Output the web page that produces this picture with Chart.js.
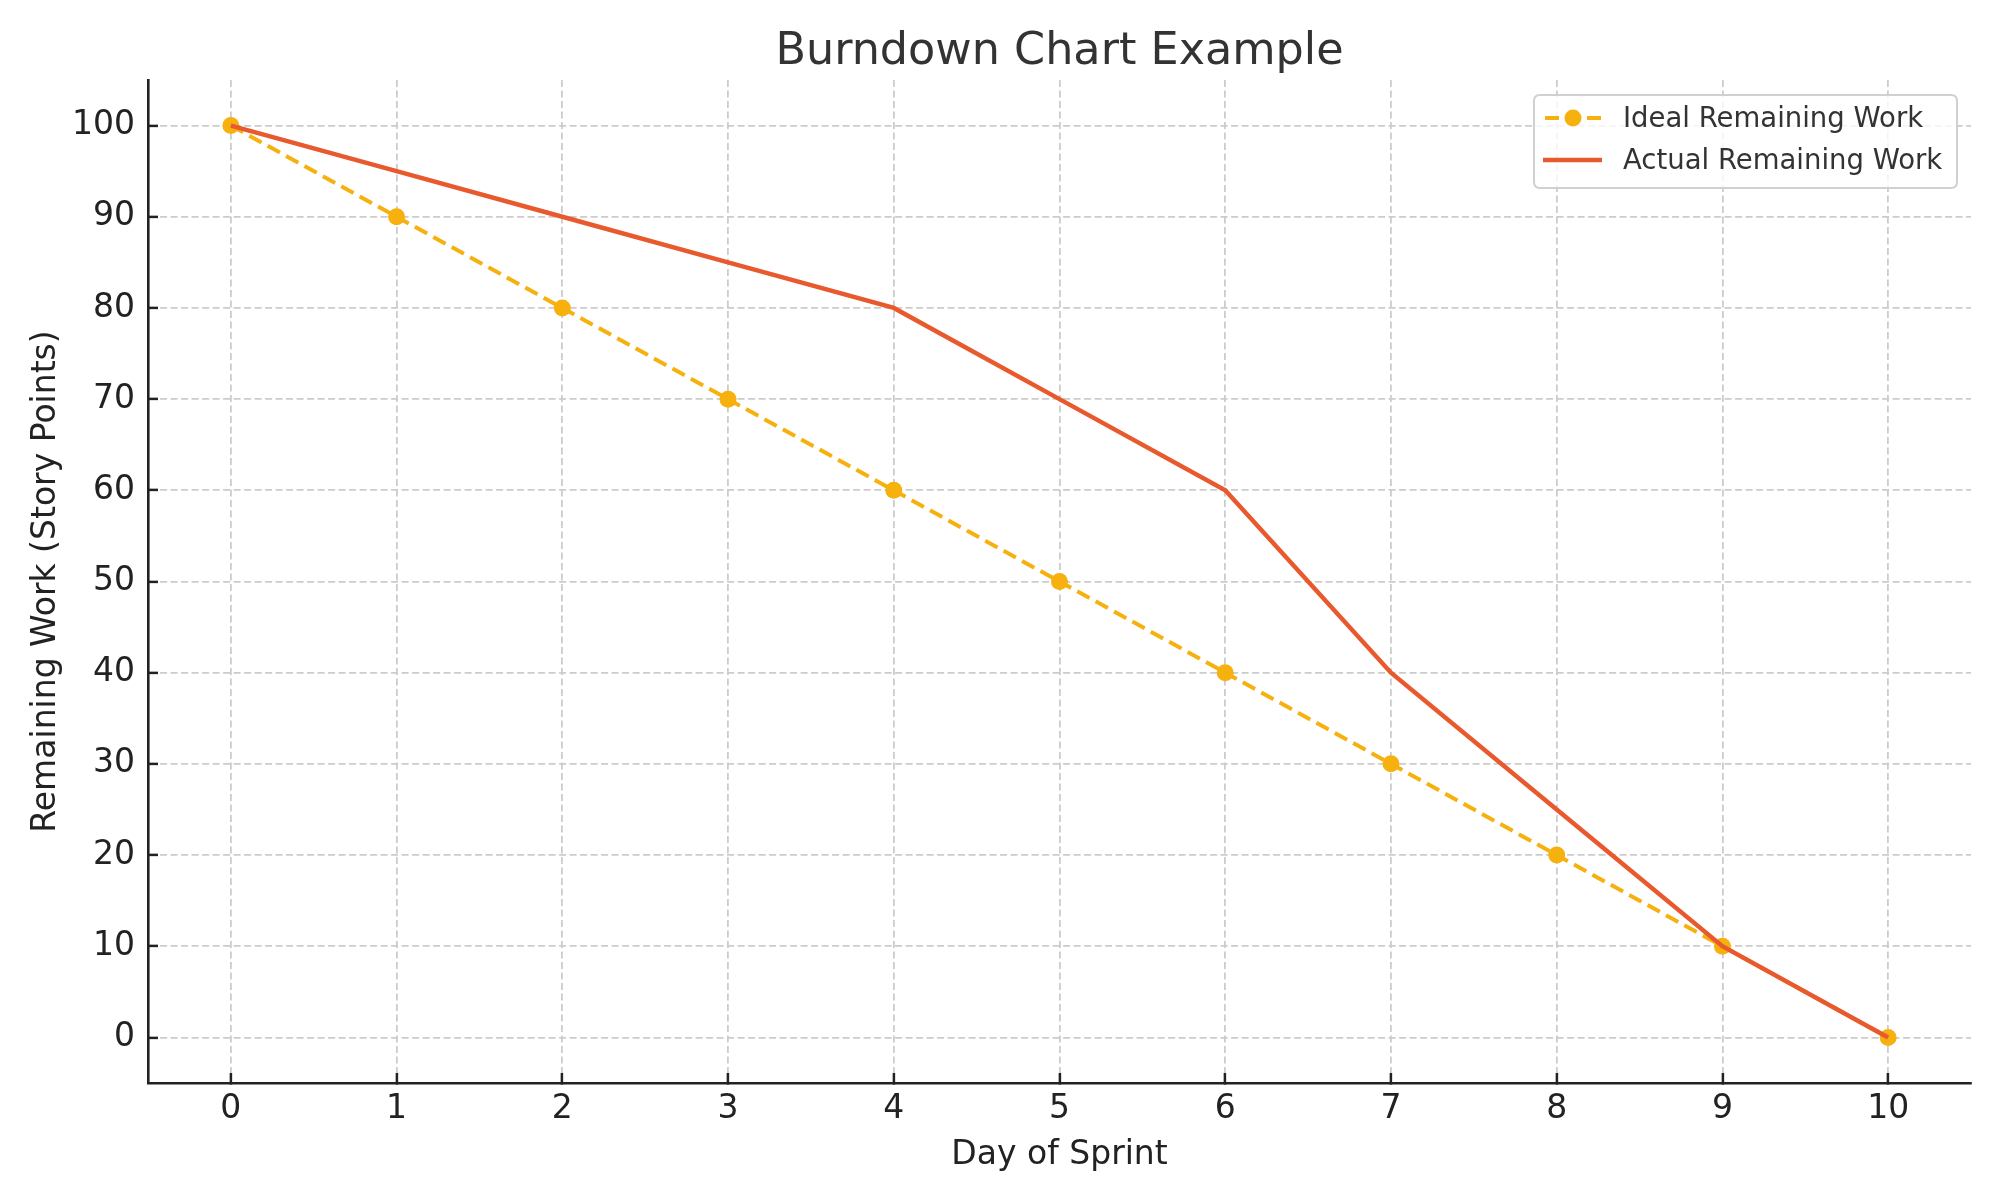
<!DOCTYPE html>
<html>
<head>
<meta charset="utf-8">
<script src="https://cdn.jsdelivr.net/npm/chart.js@4"></script>
<style>
  html, body { margin: 0; padding: 0; background: #ffffff; }
  #wrap { width: 2000px; height: 1200px; }
</style>
</head>
<body>
<div id="wrap"><canvas id="c" width="2000" height="1200"></canvas></div>
<script>
const days = [0, 1, 2, 3, 4, 5, 6, 7, 8, 9, 10];
const idealRemaining = [100, 90, 80, 70, 60, 50, 40, 30, 20, 10, 0];
const actualRemaining = [100, 95, 90, 85, 80, 70, 60, 40, 25, 10, 0];
const xTickValues = [0, 1, 2, 3, 4, 5, 6, 7, 8, 9, 10];
const yTickValues = [0, 10, 20, 30, 40, 50, 60, 70, 80, 90, 100];
const seriesNames = ['Ideal Remaining Work', 'Actual Remaining Work'];
const chartTitle = 'Burndown Chart Example';
const xTitle = 'Day of Sprint';
const yTitle = 'Remaining Work (Story Points)';

const IDEAL_COLOR = '#F6B10F';
const ACTUAL_COLOR = '#E85A2E';
const FONT = "'DejaVu Sans', sans-serif";

Chart.defaults.font.family = FONT;

const overlay = {
  id: 'overlay',
  afterDraw(chart) {
    const ctx = chart.ctx;
    const ca = chart.chartArea;
    ctx.save();
    // title
    ctx.fillStyle = '#333333';
    ctx.font = "44.5px " + FONT;
    ctx.textAlign = 'center';
    ctx.textBaseline = 'alphabetic';
    ctx.fillText(chartTitle, (ca.left + ca.right) / 2, 64);

    // legend
    const bx = 1534, by = 95, bw = 423, bh = 93, r = 6;
    ctx.beginPath();
    ctx.moveTo(bx + r, by);
    ctx.lineTo(bx + bw - r, by);
    ctx.quadraticCurveTo(bx + bw, by, bx + bw, by + r);
    ctx.lineTo(bx + bw, by + bh - r);
    ctx.quadraticCurveTo(bx + bw, by + bh, bx + bw - r, by + bh);
    ctx.lineTo(bx + r, by + bh);
    ctx.quadraticCurveTo(bx, by + bh, bx, by + bh - r);
    ctx.lineTo(bx, by + r);
    ctx.quadraticCurveTo(bx, by, bx + r, by);
    ctx.closePath();
    ctx.fillStyle = 'rgba(255,255,255,0.8)';
    ctx.fill();
    ctx.lineWidth = 2;
    ctx.strokeStyle = '#d0d0d0';
    ctx.stroke();

    // row 1: dashed + marker
    const y1 = 118, y2 = 160;
    ctx.strokeStyle = IDEAL_COLOR;
    ctx.lineWidth = 4;
    ctx.setLineDash([14, 7]);
    ctx.beginPath();
    ctx.moveTo(1545, y1);
    ctx.lineTo(1602, y1);
    ctx.stroke();
    ctx.setLineDash([]);
    ctx.fillStyle = IDEAL_COLOR;
    ctx.beginPath();
    ctx.arc(1573, y1, 8.5, 0, Math.PI * 2);
    ctx.fill();
    // row 2: solid
    ctx.strokeStyle = ACTUAL_COLOR;
    ctx.lineWidth = 4.5;
    ctx.beginPath();
    ctx.moveTo(1543, y2);
    ctx.lineTo(1602, y2);
    ctx.stroke();

    ctx.fillStyle = '#333333';
    ctx.font = "27.5px " + FONT;
    ctx.textAlign = 'left';
    ctx.textBaseline = 'alphabetic';
    ctx.fillText(seriesNames[0], 1623, 127);
    ctx.fillText(seriesNames[1], 1623, 169);
    ctx.restore();
  }
};

const toPoints = (xs, ys) => xs.map((x, i) => ({ x: x, y: ys[i] }));

new Chart(document.getElementById('c'), {
  type: 'line',
  data: {
    datasets: [
      {
        label: seriesNames[0],
        data: toPoints(days, idealRemaining),
        borderColor: IDEAL_COLOR,
        backgroundColor: IDEAL_COLOR,
        borderWidth: 4,
        borderDash: [14, 7],
        pointRadius: 8.5,
        pointBorderWidth: 0,
        pointBackgroundColor: IDEAL_COLOR,
        tension: 0,
        order: 2
      },
      {
        label: seriesNames[1],
        data: toPoints(days, actualRemaining),
        borderColor: ACTUAL_COLOR,
        backgroundColor: ACTUAL_COLOR,
        borderWidth: 4.5,
        pointRadius: 0,
        tension: 0,
        order: 1
      }
    ]
  },
  options: {
    responsive: false,
    animation: false,
    devicePixelRatio: 1,
    layout: { padding: { top: 80, right: 29, bottom: 0, left: 0 } },
    plugins: {
      legend: { display: false },
      title: { display: false },
      tooltip: { enabled: false }
    },
    scales: {
      x: {
        type: 'linear',
        min: -0.5,
        max: 10.5,
        afterBuildTicks(scale) { scale.ticks = xTickValues.map(v => ({ value: v })); },
        afterFit(scale) { scale.height = 117; },
        ticks: {
          color: '#222222',
          font: { size: 33 },
          padding: 17,
          maxRotation: 0,
          autoSkip: false,
          callback: (v) => String(v)
        },
        grid: {
          color: '#cccccc',
          lineWidth: 1.8,
          drawTicks: true,
          tickLength: -10,
          tickColor: '#222222',
          tickWidth: 2.5
        },
        border: { display: true, color: '#222222', width: 2.6, dash: [7, 3.5] },
        title: {
          display: true,
          text: xTitle,
          color: '#222222',
          font: { size: 33 },
          padding: { top: 0, bottom: 25 }
        }
      },
      y: {
        type: 'linear',
        min: -5,
        max: 105,
        afterBuildTicks(scale) { scale.ticks = yTickValues.map(v => ({ value: v })); },
        afterFit(scale) { scale.width = 148; },
        ticks: {
          color: '#222222',
          font: { size: 33 },
          padding: 23,
          autoSkip: false,
          callback: (v) => String(v)
        },
        grid: {
          color: '#cccccc',
          lineWidth: 1.8,
          drawTicks: true,
          tickLength: -10,
          tickColor: '#222222',
          tickWidth: 2.5
        },
        border: { display: true, color: '#222222', width: 2.6, dash: [7, 3.5] },
        title: {
          display: true,
          text: yTitle,
          color: '#222222',
          font: { size: 33 },
          padding: { top: 27, bottom: 0 }
        }
      }
    }
  },
  plugins: [overlay]
});
</script>
</body>
</html>
